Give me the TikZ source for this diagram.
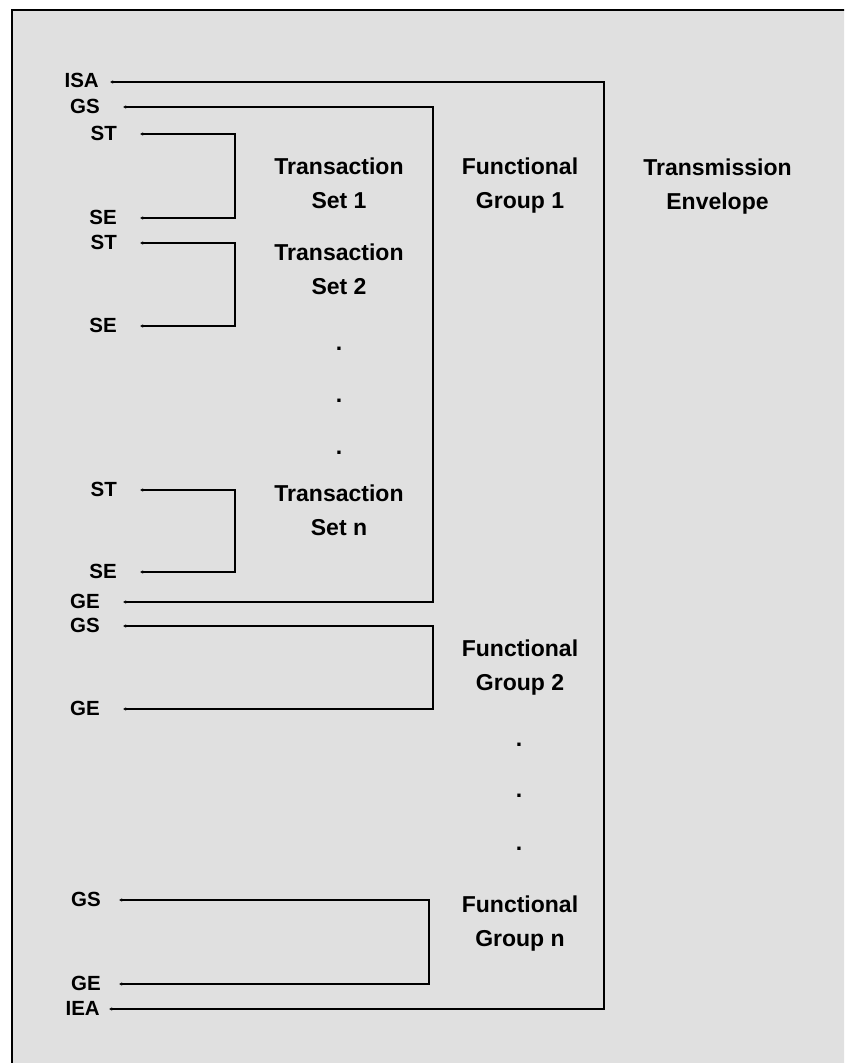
\documentclass[tikz,border=0pt]{standalone}
\usepackage{fontspec}
\setmainfont{Liberation Sans}
\usetikzlibrary{arrows.meta}
\definecolor{panel}{RGB}{224,224,224}
\begin{document}
\begin{tikzpicture}[x=1pt,y=-1pt,
  seg/.style={font=\fontsize{20.5}{24}\selectfont\bfseries, anchor=base east, inner sep=0pt},
  title/.style={font=\fontsize{23}{34.5}\selectfont\bfseries, align=center, inner sep=0pt},
  dotmark/.style={font=\fontsize{23}{27}\selectfont\bfseries, anchor=base, inner sep=0pt},
  link/.style={line width=1.5pt, {Latex[length=3pt,width=3.5pt]}-{Latex[length=3pt,width=3.5pt]}},
  frame/.style={line width=2pt}]
\useasboundingbox (0,0) rectangle (844,1063);
\clip (0,0) rectangle (844,1063);

% panel and its open border (left and top edges)
\fill[panel] (12,10) rectangle (870,1090);
\draw[frame] (12,1090) -- (12,10) -- (870,10);

% segment labels
\node[seg] (isa) at (99,87)  {ISA};
\node[seg] (gs1) at (100,113) {GS};
\node[seg] (st1) at (117,140) {ST};
\node[seg] (se1) at (117,224) {SE};
\node[seg] (st2) at (117,249) {ST};
\node[seg] (se2) at (117,332) {SE};
\node[seg] (st3) at (117,496) {ST};
\node[seg] (se3) at (117,578) {SE};
\node[seg] (ge1) at (100,608) {GE};
\node[seg] (gs2) at (100,632) {GS};
\node[seg] (ge2) at (100,715) {GE};
\node[seg] (gs3) at (101,906) {GS};
\node[seg] (ge3) at (101,990) {GE};
\node[seg] (iea) at (100,1015) {IEA};

% line starts next to the labels
\coordinate (isaS) at (110,82);
\coordinate (gs1S) at (123,107);
\coordinate (st1S) at (140,134);
\coordinate (se1S) at (140,218);
\coordinate (st2S) at (140,243);
\coordinate (se2S) at (140,326);
\coordinate (st3S) at (140,490);
\coordinate (se3S) at (140,572);
\coordinate (ge1S) at (123,602);
\coordinate (gs2S) at (123,626);
\coordinate (ge2S) at (123,709);
\coordinate (gs3S) at (119,900);
\coordinate (ge3S) at (119,984);
\coordinate (ieaS) at (109,1009);

% bracket columns
\coordinate (tsX) at (235,0);
\coordinate (fgX) at (433,0);
\coordinate (fgnX) at (429,0);
\coordinate (envX) at (604,0);

% brackets
\draw[link] (isaS) -- (isaS -| envX) -- (ieaS -| envX) -- (ieaS);
\draw[link] (gs1S) -- (gs1S -| fgX) -- (ge1S -| fgX) -- (ge1S);
\draw[link] (st1S) -- (st1S -| tsX) -- (se1S -| tsX) -- (se1S);
\draw[link] (st2S) -- (st2S -| tsX) -- (se2S -| tsX) -- (se2S);
\draw[link] (st3S) -- (st3S -| tsX) -- (se3S -| tsX) -- (se3S);
\draw[link] (gs2S) -- (gs2S -| fgX) -- (ge2S -| fgX) -- (ge2S);
\draw[link] (gs3S) -- (gs3S -| fgnX) -- (ge3S -| fgnX) -- (ge3S);

% bracket titles
\node[title] (ts1) at (339,184.35) {\strut Transaction\\\strut Set 1};
\node[title] (ts2) at (339,270.35) {\strut Transaction\\\strut Set 2};
\node[title] (tsn) at (339,511.35) {\strut Transaction\\\strut Set n};
\node[title] (fg1) at (520,184.35) {\strut Functional\\\strut Group 1};
\node[title] (env) at (717.5,185.35) {\strut Transmission\\\strut Envelope};
\node[title] (fg2) at (520,666.35) {\strut Functional\\\strut Group 2};
\node[title] (fgn) at (520,922.35) {\strut Functional\\\strut Group n};

% ellipsis dots
\node[dotmark] (d1) at (339,350) {.};
\node[dotmark] (d2) at (339,402) {.};
\node[dotmark] (d3) at (339,454) {.};
\node[dotmark] (d4) at (519,746) {.};
\node[dotmark] (d5) at (519,797) {.};
\node[dotmark] (d6) at (519,850) {.};
\end{tikzpicture}
\end{document}
